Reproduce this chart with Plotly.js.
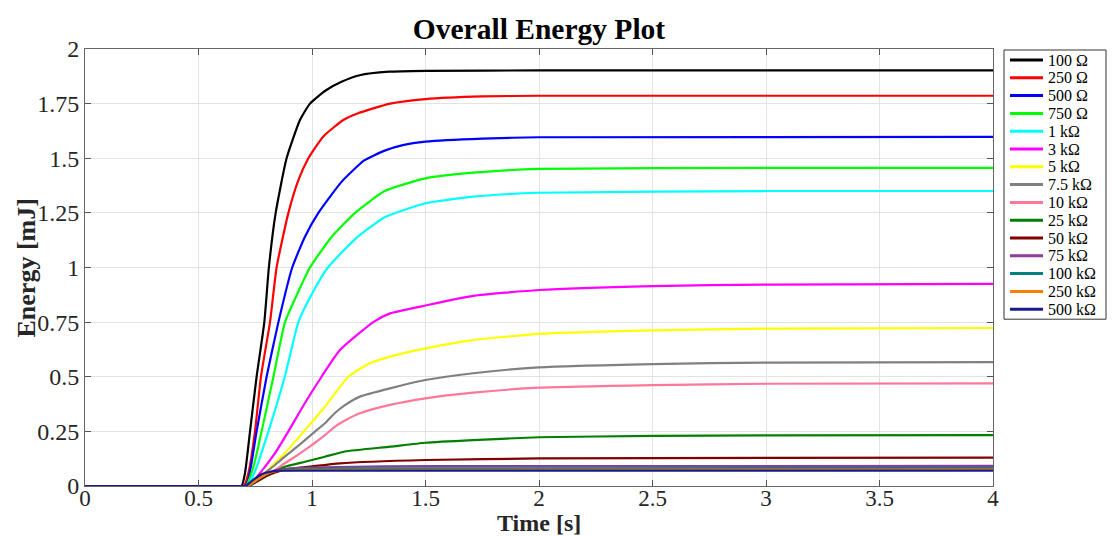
<!DOCTYPE html>
<html>
<head>
<meta charset="utf-8">
<script src="https://cdn.plot.ly/plotly-3.0.1.min.js"></script>
<style>html,body{margin:0;padding:0;background:#fff;}#chart{width:1116px;height:536px;}</style>
</head>
<body>
<div id="chart"></div>
<script>
// Series names
const names = ["100 Ω","250 Ω","500 Ω","750 Ω","1 kΩ","3 kΩ","5 kΩ","7.5 kΩ","10 kΩ","25 kΩ","50 kΩ","75 kΩ","100 kΩ","250 kΩ","500 kΩ"];

// Time [s] and energy [mJ], one pair of arrays per series
const t100 = [0,0.67,0.69,0.705,0.727,0.756,0.79,0.81,0.84,0.888,0.947,0.991,1.06,1.13,1.21,1.34,1.5,2,4];
const e100 = [0,0,0,0.06,0.25,0.5,0.75,1.0,1.25,1.5,1.675,1.75,1.81,1.85,1.88,1.896,1.90,1.902,1.902];

const t250 = [0,0.68,0.70,0.72,0.749,0.775,0.815,0.844,0.896,0.94,0.984,1.05,1.138,1.2,1.344,1.5,1.75,2,4];
const e250 = [0,0,0,0.06,0.25,0.5,0.75,1.0,1.25,1.4,1.5,1.6,1.675,1.705,1.75,1.771,1.783,1.786,1.786];

const t500 = [0,0.685,0.705,0.72,0.756,0.80,0.852,0.913,0.969,1.028,1.131,1.23,1.32,1.4,1.5,1.75,2,4];
const e500 = [0,0,0,0.03,0.25,0.5,0.75,1.0,1.141,1.25,1.393,1.49,1.535,1.56,1.576,1.59,1.596,1.598];

const t750 = [0,0.69,0.71,0.745,0.778,0.83,0.881,0.94,0.991,1.087,1.19,1.32,1.5,1.71,2,3,4];
const e750 = [0,0,0,0.1,0.25,0.5,0.75,0.89,1.0,1.141,1.25,1.35,1.408,1.434,1.451,1.456,1.456];

const t1k = [0,0.695,0.715,0.75,0.808,0.88,0.94,1.0,1.07,1.19,1.32,1.5,1.71,2,3,4];
const e1k = [0,0,0,0.07,0.25,0.5,0.75,0.88,1.0,1.13,1.23,1.294,1.324,1.342,1.35,1.35];

const t3k = [0,0.70,0.72,0.793,0.837,0.896,0.969,1.042,1.123,1.27,1.344,1.5,1.71,2,2.5,3,4];
const e3k = [0,0,0,0.088,0.15,0.25,0.38,0.5,0.622,0.75,0.79,0.826,0.87,0.897,0.915,0.922,0.925];

const t5k = [0,0.70,0.72,0.793,0.837,0.88,0.925,0.969,1.057,1.16,1.25,1.344,1.5,1.71,2,2.5,3,4];
const e5k = [0,0,0,0.06,0.105,0.15,0.203,0.256,0.363,0.5,0.56,0.592,0.63,0.668,0.696,0.712,0.72,0.723];

const t7k5 = [0,0.70,0.72,0.793,0.837,0.88,0.925,0.969,1.013,1.057,1.10,1.145,1.211,1.344,1.5,1.71,2,2.5,3,4];
const e7k5 = [0,0,0,0.06,0.096,0.134,0.172,0.21,0.249,0.287,0.333,0.37,0.409,0.447,0.485,0.516,0.543,0.558,0.565,0.567];

const t10k = [0,0.70,0.72,0.793,0.837,0.88,0.925,0.969,1.013,1.057,1.10,1.145,1.211,1.344,1.5,1.71,2,2.5,3,4];
const e10k = [0,0,0,0.05,0.073,0.104,0.134,0.165,0.198,0.233,0.271,0.30,0.333,0.371,0.401,0.427,0.45,0.462,0.468,0.47];

const t25k = [0,0.70,0.72,0.808,0.88,0.969,1.057,1.145,1.344,1.5,1.71,2,2.5,3,4];
const e25k = [0,0,0,0.05,0.088,0.111,0.134,0.158,0.18,0.198,0.21,0.223,0.229,0.232,0.233];

const t50k = [0,0.70,0.72,0.78,0.808,0.88,1.0,1.123,1.5,2,3,4];
const e50k = [0,0,0,0.035,0.05,0.075,0.09,0.104,0.119,0.126,0.129,0.13];

const t75k = [0,0.70,0.72,0.76,0.80,0.85,0.95,1.1,1.5,4];
const e75k = [0,0,0,0.03,0.055,0.075,0.083,0.087,0.091,0.092];

const t100k = [0,0.70,0.72,0.76,0.80,0.85,0.95,1.2,4];
const e100k = [0,0,0,0.03,0.055,0.072,0.078,0.081,0.082];

const t250k = [0,0.695,0.715,0.76,0.80,0.85,0.95,4];
const e250k = [0,0,0,0.03,0.055,0.07,0.074,0.075];

const t500k = [0,0.69,0.71,0.72,0.75,0.78,0.82,0.86,4];
const e500k = [0,0,0,0.01,0.035,0.055,0.066,0.07,0.07];

const times = [t100,t250,t500,t750,t1k,t3k,t5k,t7k5,t10k,t25k,t50k,t75k,t100k,t250k,t500k];
const energies = [e100,e250,e500,e750,e1k,e3k,e5k,e7k5,e10k,e25k,e50k,e75k,e100k,e250k,e500k];

const colors = ["#000000","#ff0000","#0000ff","#00ff00","#00ffff","#ff00ff","#ffff00","#808080","#ff7799","#008000","#800000","#8e3a9e","#008080","#ff8000","#1a1a8c"];

const xTicks = [0,0.5,1,1.5,2,2.5,3,3.5,4];
const yTicks = [0,0.25,0.5,0.75,1,1.25,1.5,1.75,2];

const FONT = "Liberation Serif, Times New Roman, serif";

// Figure geometry (pixels)
const W = 1116, H = 536;
const M = {l:85, r:123, t:49, b:50};
const PW = W - M.l - M.r, PH = H - M.t - M.b;
const px2x = p => (p - M.l) / PW;          // pixel -> paper x
const py2y = p => (H - M.b - p) / PH;      // pixel -> paper y

const traces = names.map((n,i)=>({
  type:"scatter", mode:"lines", name:n, showlegend:false,
  x:times[i], y:energies[i],
  line:{color:colors[i], width:2.2, shape:"spline", smoothing:0.5}
}));

// Legend built in paper space (box, sample lines, labels)
const legFirst = 60, legStep = 17.8;
const legTop = 50, legBottom = legFirst + (names.length - 1) * legStep + 10, legLeft = 1004, legRight = 1106;
const shapes = [{
  type:"rect", xref:"paper", yref:"paper",
  x0:px2x(legLeft), x1:px2x(legRight), y0:py2y(legBottom), y1:py2y(legTop),
  line:{color:"#333", width:1}, fillcolor:"#fff", layer:"above"
}];
const annotations = [];
names.forEach((n,i)=>{
  const yy = py2y(legFirst + i*legStep);
  shapes.push({type:"line", xref:"paper", yref:"paper", x0:px2x(1010), x1:px2x(1043), y0:yy, y1:yy,
    line:{color:colors[i], width:3}, layer:"above"});
  annotations.push({xref:"paper", yref:"paper", x:px2x(1046), y:yy, xanchor:"left", yanchor:"middle",
    text:n, showarrow:false, font:{family:FONT, size:16, color:"#000"}});
});
// Axis titles
annotations.push({xref:"paper", yref:"paper", x:0.5, y:py2y(522.5), xanchor:"center", yanchor:"middle",
  text:"<b>Time [s]</b>", showarrow:false, font:{family:FONT, size:24, color:"#262626"}});
annotations.push({xref:"paper", yref:"paper", x:px2x(26), y:0.5, xanchor:"center", yanchor:"middle", textangle:-90,
  text:"<b>Energy [mJ]</b>", showarrow:false, font:{family:FONT, size:26, color:"#262626"}});

const layout = {
  width:W, height:H,
  paper_bgcolor:"#fff", plot_bgcolor:"#fff",
  margin:M,
  font:{family:FONT, color:"#262626", size:24},
  title:{text:"<b>Overall Energy Plot</b>", font:{family:FONT, size:29.5, color:"#000"},
    x:0.5, xref:"paper", xanchor:"center", y:1 - 29/H, yref:"container", yanchor:"middle"},
  xaxis:{
    range:[0,4], tickvals:xTicks, ticktext:xTicks.map(String),
    ticks:"inside", ticklen:6, tickcolor:"#555", showline:true, linecolor:"#666", linewidth:1, mirror:"ticks",
    showgrid:true, gridcolor:"#e3e3e3", zeroline:false,
    tickfont:{family:FONT, size:23, color:"#262626"},
    ticklabelstandoff:-9,
    automargin:false
  },
  yaxis:{
    range:[0,2], tickvals:yTicks, ticktext:yTicks.map(String),
    ticks:"inside", ticklen:6, tickcolor:"#555", showline:true, linecolor:"#666", linewidth:1, mirror:"ticks",
    showgrid:true, gridcolor:"#e3e3e3", zeroline:false,
    tickfont:{family:FONT, size:24, color:"#262626"},
    ticklabelstandoff:0,
    automargin:false
  },
  showlegend:false,
  shapes:shapes,
  annotations:annotations
};

Plotly.newPlot("chart", traces, layout, {displayModeBar:false, staticPlot:true});
</script>
</body>
</html>
